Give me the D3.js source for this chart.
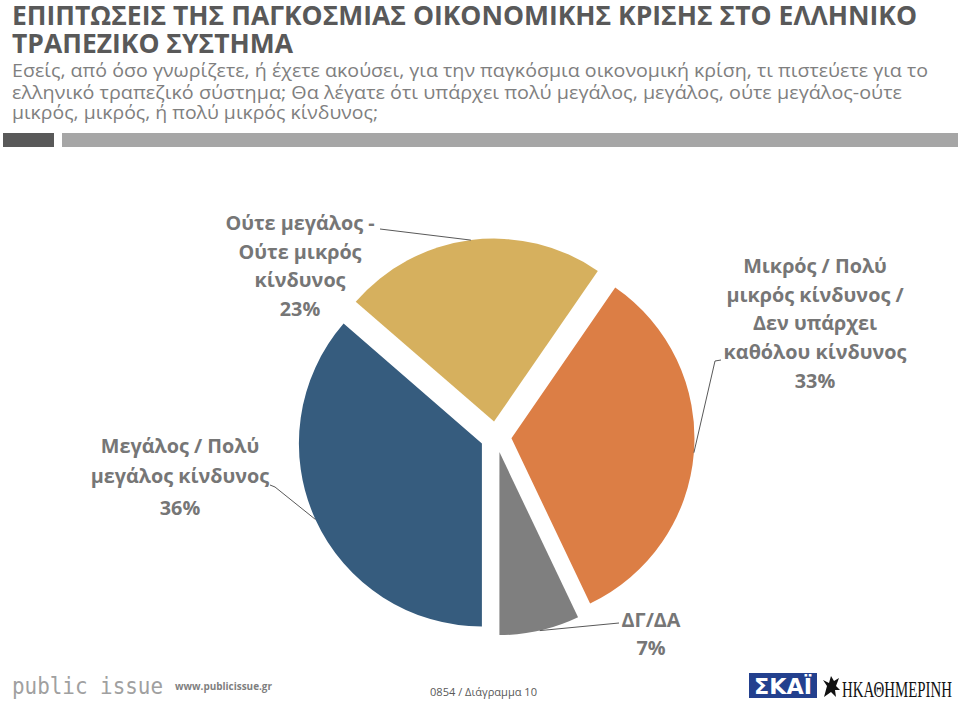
<!DOCTYPE html>
<html><head><meta charset="utf-8">
<script src="https://cdn.jsdelivr.net/npm/d3@7"></script>
<style>body{margin:0;background:#fff}svg{display:block}</style>
</head><body>
<script>
// ---- data ----
const categories = ["Μεγάλος / Πολύ μεγάλος κίνδυνος", "Ούτε μεγάλος - Ούτε μικρός κίνδυνος", "Μικρός / Πολύ μικρός κίνδυνος / Δεν υπάρχει καθόλου κίνδυνος", "ΔΓ/ΔΑ"];
const values = [36, 23, 33, 7];
const valueLabels = ["36%", "23%", "33%", "7%"];
const labelLines = [
  ["Μεγάλος / Πολύ", "μεγάλος κίνδυνος"],
  ["Ούτε μεγάλος -", "Ούτε μικρός", "κίνδυνος"],
  ["Μικρός / Πολύ", "μικρός κίνδυνος /", "Δεν υπάρχει", "καθόλου κίνδυνος"],
  ["ΔΓ/ΔΑ"]
];
const colors = ["#365c7e", "#d6b05e", "#dc7e45", "#7f7f7f"];
const titleLines = ["ΕΠΙΠΤΩΣΕΙΣ ΤΗΣ ΠΑΓΚΟΣΜΙΑΣ ΟΙΚΟΝΟΜΙΚΗΣ ΚΡΙΣΗΣ ΣΤΟ ΕΛΛΗΝΙΚΟ", "ΤΡΑΠΕΖΙΚΟ ΣΥΣΤΗΜΑ"];
const subtitleLines = [
  "Εσείς, από όσο γνωρίζετε, ή έχετε ακούσει, για την παγκόσμια οικονομική κρίση, τι πιστεύετε για το",
  "ελληνικό τραπεζικό σύστημα; Θα λέγατε ότι υπάρχει πολύ μεγάλος, μεγάλος, ούτε μεγάλος-ούτε",
  "μικρός, μικρός, ή πολύ μικρός κίνδυνος;"
];

// ---- layout ----
const W = 960, H = 705;
const svg = d3.select("body").append("svg").attr("width", W).attr("height", H);
const font = "'Open Sans', 'DejaVu Sans', sans-serif";

const titleLen = [905, 281], titleY = [24.5, 52.5];
titleLines.forEach((t, i) => svg.append("text").attr("x", 12).attr("y", titleY[i])
  .attr("font-family", font).attr("font-weight", 700).attr("font-size", 27.5).attr("fill", "#595959")
  .attr("textLength", titleLen[i]).attr("lengthAdjust", "spacingAndGlyphs").text(t));
const subLen = [916, 890, 366], subY = [77, 99, 119];
subtitleLines.forEach((t, i) => svg.append("text").attr("x", 12).attr("y", subY[i])
  .attr("font-family", font).attr("font-size", 17.5).attr("fill", "#7f7f7f")
  .attr("textLength", subLen[i]).attr("lengthAdjust", "spacingAndGlyphs").text(t));

svg.append("rect").attr("x", 3).attr("y", 133).attr("width", 51).attr("height", 14).attr("fill", "#595959");
svg.append("rect").attr("x", 62).attr("y", 133).attr("width", 896).attr("height", 14).attr("fill", "#a6a6a6");

// ---- pie ----
const cx = 496, cy = 437, R = 183, explode = 15.5;
const pie = d3.pie().sort(null).startAngle(Math.PI).endAngle(3 * Math.PI);
const arcs = pie(values);
const arc = d3.arc().innerRadius(0).outerRadius(R);
const g = svg.append("g").attr("transform", `translate(${cx},${cy})`);
const off = d => { const a = (d.startAngle + d.endAngle) / 2; return [explode * Math.sin(a), -explode * Math.cos(a)]; };
g.selectAll("path").data(arcs).join("path")
  .attr("transform", d => `translate(${off(d)[0]},${off(d)[1]})`)
  .attr("d", arc).attr("fill", (d, i) => colors[i]);

// label layout: center x, first baseline, line step, leader start points
const labelPos = [
  {x: 180, y: 453, step: 30, pctGap: 32, leader: [[270, 485], [275, 487]]},
  {x: 300, y: 230, step: 28.5, pctGap: 28.5, leader: [[380, 229]]},
  {x: 815, y: 273, step: 28.7, pctGap: 28.5, leader: [[721, 360], [715, 361]]},
  {x: 651, y: 627, step: 28, pctGap: 28, leader: [[619, 623]]}
];
const labelColor = "#767676";
arcs.forEach((d, i) => {
  const p = labelPos[i];
  const a = (d.startAngle + d.endAngle) / 2;
  const o = off(d);
  const end = [cx + o[0] + R * Math.sin(a), cy + o[1] - R * Math.cos(a)];
  svg.append("path").attr("d", d3.line()([...p.leader, end]))
    .attr("fill", "none").attr("stroke", "#595959").attr("stroke-width", 1);
  const t = svg.append("text").attr("text-anchor", "middle").attr("font-family", font)
    .attr("font-weight", 700).attr("font-size", 19.8).attr("fill", labelColor);
  labelLines[i].forEach((ln, j) => t.append("tspan").attr("x", p.x).attr("y", p.y + j * p.step).text(ln));
  t.append("tspan").attr("x", p.x).attr("y", p.y + (labelLines[i].length - 1) * p.step + p.pctGap).text(valueLabels[i]);
});

// ---- footer ----
svg.append("text").attr("x", 12).attr("y", 694).attr("font-family", "'DejaVu Sans Mono', monospace")
  .attr("font-size", 23).attr("fill", "#a0a0a0").attr("textLength", 151).attr("lengthAdjust", "spacingAndGlyphs").text("public issue");
svg.append("text").attr("x", 175).attr("y", 690).attr("font-family", font).attr("font-weight", 700)
  .attr("font-size", 10.5).attr("fill", "#7f7f7f").attr("textLength", 97).attr("lengthAdjust", "spacingAndGlyphs").text("www.publicissue.gr");
svg.append("text").attr("x", 430).attr("y", 696).attr("font-family", font)
  .attr("font-size", 11.5).attr("fill", "#595959").attr("textLength", 107).attr("lengthAdjust", "spacingAndGlyphs").text("0854 / Διάγραμμα 10");
svg.append("rect").attr("x", 749).attr("y", 673).attr("width", 68).attr("height", 25).attr("fill", "#23408e");
svg.append("text").attr("x", 783).attr("y", 694).attr("text-anchor", "middle").attr("font-family", "'DejaVu Sans', sans-serif")
  .attr("font-weight", 700).attr("font-size", 21).attr("fill", "#fff").attr("textLength", 58).attr("lengthAdjust", "spacingAndGlyphs").text("ΣΚΑΪ");
svg.append("path").attr("d", "M824,697 L827,686 L823,680 L829,683 L831,676 L834,681 L839,678 L836,686 L840,690 L835,690 L836,697 L831,692 Z").attr("fill", "#111");
svg.append("text").attr("x", 842).attr("y", 697).attr("font-family", "'Liberation Serif', serif")
  .attr("font-size", 24).attr("fill", "#111").attr("textLength", 110).attr("lengthAdjust", "spacingAndGlyphs").text("ΗΚΑΘΗΜΕΡΙΝΗ");
</script>
</body></html>
